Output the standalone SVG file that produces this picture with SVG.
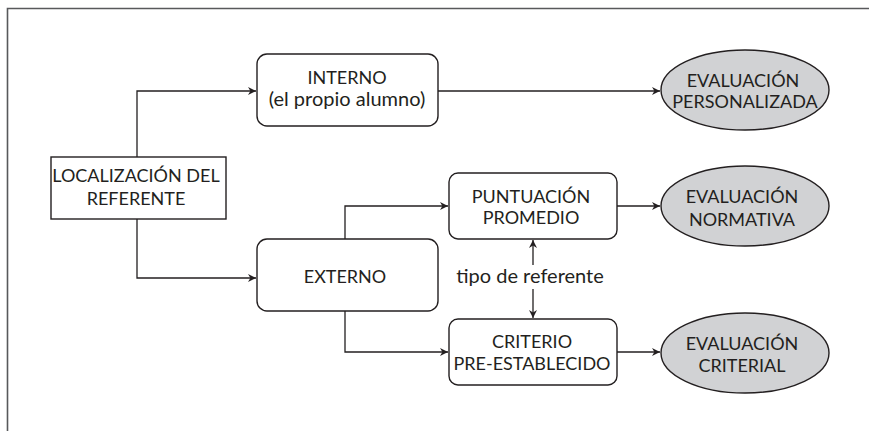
<svg xmlns="http://www.w3.org/2000/svg" width="869" height="431" viewBox="0 0 869 431">
<style>
  .box{fill:#fff;stroke:#231f20;stroke-width:1.4}
  .ell{fill:#d1d2d4;stroke:#231f20;stroke-width:1.4}
  .t{font-family:Lato,"Liberation Sans",sans-serif;font-size:18px;fill:#231f20;text-anchor:middle}
  .lc{font-size:20px}
  .c{fill:none;stroke:#231f20;stroke-width:1.3}
</style>
<defs>
  <marker id="ah" viewBox="0 0 10 10" refX="10" refY="5" markerWidth="8" markerHeight="8" markerUnits="userSpaceOnUse" orient="auto-start-reverse">
    <path d="M0,0 L10,5 L0,10 L3,5 Z" fill="#231f20"/>
  </marker>
</defs>
<rect width="869" height="431" fill="#fff"/>
<path d="M7.5,431 V8.5 H869" fill="none" stroke="#58595b" stroke-width="1.6"/>

<g id="connectors">
  <path class="c" d="M137,157 V91 H256" marker-end="url(#ah)"/>
  <path class="c" d="M137,219 V278 H256" marker-end="url(#ah)"/>
  <path class="c" d="M438,91 H660" marker-end="url(#ah)"/>
  <path class="c" d="M345,239 V206 H448" marker-end="url(#ah)"/>
  <path class="c" d="M345,311 V352 H448" marker-end="url(#ah)"/>
  <path class="c" d="M617,206 H660" marker-end="url(#ah)"/>
  <path class="c" d="M617,352 H660" marker-end="url(#ah)"/>
  <path class="c" d="M533,265 V240" marker-end="url(#ah)"/>
  <path class="c" d="M533,289 V318" marker-end="url(#ah)"/>
  <text class="t lc" x="530" y="283">tipo de referente</text>
</g>

<g id="localizacion">
  <rect class="box" x="51" y="157" width="175" height="62"/>
  <text class="t" x="136" y="182">LOCALIZACIÓN DEL</text>
  <text class="t" x="136" y="205">REFERENTE</text>
</g>
<g id="interno">
  <rect class="box" x="257" y="54" width="181" height="72" rx="10"/>
  <text class="t" x="347" y="84">INTERNO</text>
  <text class="t lc" x="347" y="106">(el propio alumno)</text>
</g>
<g id="externo">
  <rect class="box" x="257" y="239" width="181" height="72" rx="10"/>
  <text class="t" x="345" y="283">EXTERNO</text>
</g>
<g id="puntuacion">
  <rect class="box" x="449" y="173" width="168" height="66" rx="9"/>
  <text class="t" x="531" y="203">PUNTUACIÓN</text>
  <text class="t" x="531" y="224">PROMEDIO</text>
</g>
<g id="criterio">
  <rect class="box" x="449" y="319" width="168" height="66" rx="9"/>
  <text class="t" x="532" y="348">CRITERIO</text>
  <text class="t" x="532" y="370">PRE-ESTABLECIDO</text>
</g>
<g id="ev-personalizada">
  <ellipse class="ell" cx="745" cy="90" rx="84" ry="40"/>
  <text class="t" x="743" y="87">EVALUACIÓN</text>
  <text class="t" x="745" y="108">PERSONALIZADA</text>
</g>
<g id="ev-normativa">
  <ellipse class="ell" cx="745" cy="206" rx="84" ry="40"/>
  <text class="t" x="742" y="203">EVALUACIÓN</text>
  <text class="t" x="742" y="226">NORMATIVA</text>
</g>
<g id="ev-criterial">
  <ellipse class="ell" cx="745" cy="353" rx="84" ry="40"/>
  <text class="t" x="742" y="350">EVALUACIÓN</text>
  <text class="t" x="742" y="372">CRITERIAL</text>
</g>
</svg>
